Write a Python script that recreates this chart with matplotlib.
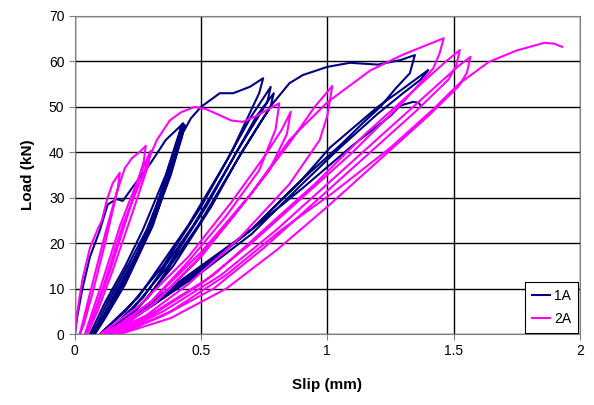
import matplotlib
matplotlib.use('Agg')
import matplotlib.pyplot as plt

plt.rcParams['font.family'] = ['Liberation Sans', 'DejaVu Sans']

# specimen 1A : (slip mm, load kN)
pts_1a = [
    (0, 0), (0.01, 4), (0.03, 10), (0.06, 17), (0.1, 23), (0.13, 28.5), (0.165, 29.7), (0.19, 29.3),
    (0.23, 32.4), (0.3, 37.6), (0.36, 42.7), (0.43, 46.4),
    (0.415, 43.5), (0.31, 25), (0.2, 12), (0.12, 4), (0.06, 0),
    (0.12, 7), (0.2, 15), (0.27, 23), (0.36, 35), (0.425, 46.2),
    (0.41, 43), (0.3, 24), (0.19, 11), (0.11, 3.5), (0.07, 0),
    (0.13, 7), (0.21, 15), (0.285, 23), (0.37, 35), (0.435, 46.0),
    (0.42, 43), (0.31, 24), (0.2, 11), (0.12, 3.5), (0.08, 0),
    (0.14, 7), (0.22, 15), (0.3, 23), (0.38, 35), (0.43, 44.5), (0.46, 47.5),
    (0.5, 50), (0.574, 53), (0.627, 53), (0.693, 54.4), (0.746, 56.3),
    (0.73, 53), (0.62, 40), (0.5, 28), (0.35, 15), (0.2, 5), (0.1, 0),
    (0.25, 8), (0.45, 24), (0.6, 38), (0.7, 48), (0.776, 54.4),
    (0.762, 51), (0.64, 40), (0.52, 28), (0.37, 15), (0.22, 5), (0.12, 0),
    (0.27, 8), (0.47, 24), (0.62, 38), (0.72, 48), (0.788, 53.0),
    (0.775, 50), (0.66, 40), (0.54, 28), (0.39, 15), (0.24, 5), (0.13, 0),
    (0.29, 8), (0.49, 24), (0.64, 38), (0.74, 47), (0.785, 50.8),
    (0.85, 55.2), (0.903, 57), (1.0, 58.8), (1.09, 59.7), (1.2, 59.3), (1.29, 60.3), (1.347, 61.4),
    (1.327, 57.4), (1.27, 54), (1.21, 50), (1.14, 46.4), (1.06, 42), (0.9, 34), (0.7, 23), (0.5, 15),
    (0.3, 7), (0.13, 0),
    (0.3, 6), (0.5, 14), (0.7, 23), (0.9, 34), (1.01, 41), (1.2, 50), (1.3, 54), (1.40, 58.1),
    (1.37, 56), (1.3, 53), (1.2, 48.5), (1.05, 41), (0.9, 33), (0.7, 22), (0.5, 13.5), (0.3, 6), (0.14, 0),
    (0.3, 6.5), (0.5, 14.5), (0.7, 23), (0.9, 32), (1.1, 41.5), (1.25, 48), (1.29, 50.3), (1.34, 51.1),
    (1.362, 50.9), (1.37, 50.3),
]

# specimen 2A
pts_2a = [
    (0, 0), (0.01, 5), (0.03, 12), (0.06, 19), (0.09, 23), (0.107, 25), (0.127, 29.5), (0.15, 33.2), (0.178, 35.5),
    (0.17, 32), (0.12, 20), (0.07, 9), (0.035, 2), (0.02, 0),
    (0.06, 9), (0.12, 22), (0.165, 31), (0.198, 36.5), (0.226, 38.7), (0.257, 40.1), (0.281, 41.4),
    (0.273, 38), (0.22, 28), (0.14, 14), (0.08, 5), (0.04, 0),
    (0.1, 10), (0.18, 24), (0.25, 34), (0.3, 40.3),
    (0.29, 37), (0.23, 27), (0.15, 14), (0.09, 5), (0.05, 0),
    (0.11, 10), (0.19, 24), (0.27, 35), (0.3, 39.5), (0.325, 42.7), (0.376, 47), (0.42, 48.8), (0.475, 50),
    (0.52, 49.5), (0.58, 48), (0.62, 47), (0.665, 46.7), (0.72, 48), (0.76, 49.3), (0.81, 50.8),
    (0.795, 45), (0.73, 36), (0.6, 26), (0.45, 16), (0.3, 7), (0.18, 2), (0.1, 0),
    (0.25, 6), (0.45, 17), (0.62, 29), (0.75, 39), (0.82, 45), (0.855, 48.9),
    (0.84, 44), (0.77, 36), (0.63, 26), (0.48, 16), (0.32, 7), (0.2, 2), (0.12, 0),
    (0.3, 7), (0.5, 18), (0.7, 31), (0.85, 42), (0.95, 50), (1.02, 54.6),
    (1.0, 48), (0.97, 42.7), (0.85, 33), (0.65, 21), (0.45, 11), (0.28, 4), (0.13, 0),
    (0.3, 6), (0.5, 17), (0.7, 31), (0.85, 42.7), (1.0, 51), (1.17, 58), (1.3, 61.5), (1.461, 65.1),
    (1.445, 61.8), (1.42, 58.5), (1.3, 51), (1.1, 40), (0.9, 30), (0.7, 20), (0.5, 11), (0.3, 4), (0.15, 0),
    (0.32, 5), (0.55, 13), (0.75, 23), (0.95, 33), (1.15, 44), (1.35, 54), (1.47, 60), (1.525, 62.5),
    (1.51, 59), (1.48, 56), (1.35, 49), (1.15, 39), (0.95, 29), (0.75, 19), (0.55, 10), (0.35, 4), (0.17, 0),
    (0.35, 5), (0.58, 13), (0.8, 23), (1.0, 33), (1.2, 43), (1.4, 53), (1.52, 59), (1.567, 61),
    (1.553, 57.5), (1.52, 54.5), (1.4, 48), (1.2, 38), (1.0, 28), (0.8, 18.5), (0.6, 10), (0.38, 3.5), (0.18, 0),
    (0.38, 5), (0.6, 13), (0.82, 23), (1.02, 31), (1.25, 41), (1.42, 49.5), (1.52, 55), (1.64, 59.9),
    (1.75, 62.4), (1.86, 64.1), (1.9, 63.9), (1.93, 63.2),
]

labels = ['1A', '2A']
colors = ['#000080', '#FF00FF']

fig = plt.figure(figsize=(5.94, 4.05), dpi=100)
ax = fig.add_axes([0.126, 0.1753, 0.85, 0.7852])

for pts, lab, c in zip([pts_1a, pts_2a], labels, colors):
    s, L = zip(*pts)
    ax.plot(s, L, color=c, lw=1.5, label=lab, solid_joinstyle='round')

ax.set_xlim(0, 2)
ax.set_ylim(0, 70)
ax.set_xticks([0, 0.5, 1, 1.5, 2])
ax.set_xticklabels(['0', '0.5', '1', '1.5', '2'])
ax.set_yticks(range(0, 71, 10))
ax.grid(True, color='black', lw=1)
ax.set_axisbelow(True)
for sp in ax.spines.values():
    sp.set_color('#808080')
ax.tick_params(direction='out', length=4, labelsize=10, color='#808080')
ax.set_xlabel('Slip (mm)', fontsize=11, fontweight='bold', labelpad=14)
ax.set_ylabel('Load (kN)', fontsize=11, fontweight='bold', labelpad=10)

leg = ax.legend(loc='lower right', fancybox=False, edgecolor='black', fontsize=10,
                handlelength=1.3, handletextpad=0.3, borderpad=0.5, labelspacing=0.6,
                framealpha=1, borderaxespad=0.1)
leg.get_frame().set_linewidth(0.8)

fig.savefig('out.png', dpi=100)
